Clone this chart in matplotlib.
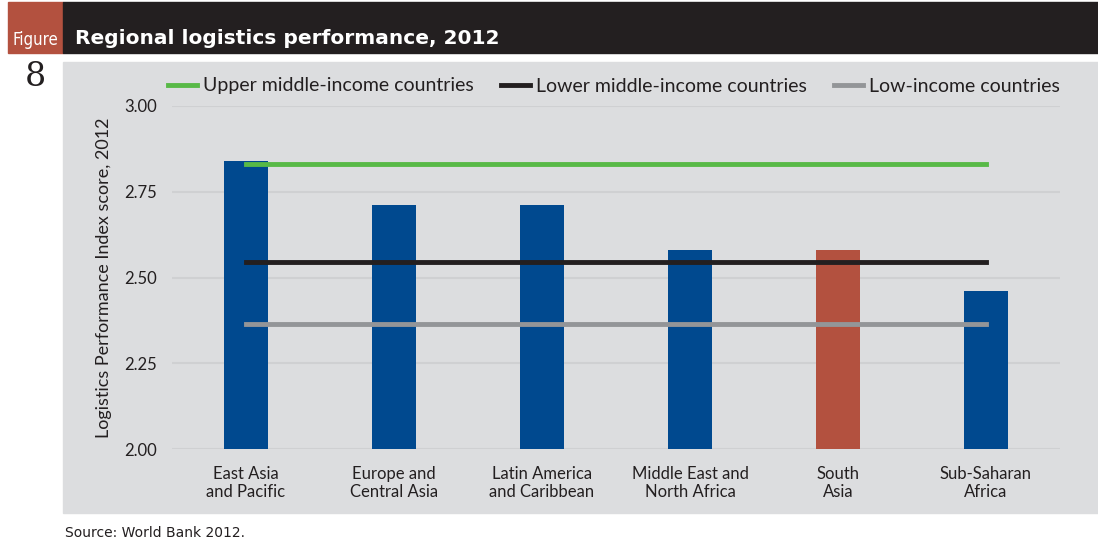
import numpy as np
import matplotlib
matplotlib.use("Agg")
from matplotlib import pyplot as plt
from matplotlib.patches import Rectangle

# =============================================================================
# data
# =============================================================================
regions = ["East Asia\nand Pacific", "Europe and\nCentral Asia", "Latin America\nand Caribbean",
           "Middle East and\nNorth Africa", "South\nAsia", "Sub-Saharan\nAfrica"]
lpi_score = [2.84, 2.71, 2.71, 2.58, 2.58, 2.46]
upper_middle = [2.83] * 6
lower_middle = [2.545] * 6
low_income = [2.365] * 6
yticks = [2.00, 2.25, 2.50, 2.75, 3.00]

blue = "#00498f"
red = "#b3513f"
panel = "#dcdddf"

W, H = 1098, 545
fig = plt.figure(figsize=(W / 100, H / 100), dpi=100)
plt.rcParams['font.family'] = ['Lato', 'DejaVu Sans']

def fx(px):
    return px / W

def fy(py):
    return 1 - py / H

# header
fig.patches.append(Rectangle((fx(8), fy(53)), fx(55), 51 / H, transform=fig.transFigure,
                             color=red, zorder=-5))
fig.patches.append(Rectangle((fx(63), fy(53)), 1 - fx(63), 51 / H, transform=fig.transFigure,
                             color="#231f20", zorder=-5))
fig.patches.append(Rectangle((fx(63), fy(513)), 1 - fx(63), 451 / H, transform=fig.transFigure,
                             color=panel, zorder=-5))
fig.text(fx(35.5), fy(40), "Figure", color="white", fontsize=12, ha="center", va="center",
         family="DejaVu Sans", fontstretch="condensed")
fig.text(fx(75), fy(38), "Regional logistics performance, 2012", color="white", fontsize=14.5,
         fontweight="bold", ha="left", va="center", family="DejaVu Sans")
fig.text(fx(35), fy(77), "8", color="#231f20", fontsize=24, ha="center", va="center",
         family="DejaVu Serif")
fig.text(fx(65), fy(533), "Source: World Bank 2012.", color="#231f20", fontsize=10,
         ha="left", va="center", family="DejaVu Sans")

# =============================================================================
# chart
# =============================================================================
ax = fig.add_axes([fx(172), fy(449), fx(1060) - fx(172), (449 - 106) / H])
ax.set_facecolor("none")
x = np.arange(len(regions))
colors = [blue, blue, blue, blue, red, blue]
ax.bar(x, lpi_score, width=0.30, color=colors, zorder=2)
ax.plot(x, upper_middle, color="#58b947", lw=3.5, label="Upper middle-income countries", zorder=3)
ax.plot(x, lower_middle, color="#231f20", lw=3.5, label="Lower middle-income countries", zorder=3)
ax.plot(x, low_income, color="#939598", lw=3.5, label="Low-income countries", zorder=3)

ax.set_xlim(-0.5, 5.5)
ax.set_ylim(2.0, 3.0)
ax.set_yticks(yticks)
ax.set_yticklabels(["%.2f" % t for t in yticks])
ax.set_xticks(x)
ax.set_xticklabels(regions)
ax.yaxis.grid(True, color="#cfd0d2", lw=1.5, zorder=0)
ax.set_axisbelow(True)
for s in ax.spines.values():
    s.set_visible(False)
ax.tick_params(length=0, labelsize=12, colors="#231f20")
ax.tick_params(axis="y", pad=11)
ax.tick_params(axis="x", pad=12)
ax.set_ylabel("Logistics Performance Index score, 2012", fontsize=13, color="#231f20")
ax.yaxis.set_label_coords(-0.068, 0.5)

fig.legend(loc="center", bbox_to_anchor=(fx(614), fy(86)), ncol=3, frameon=False,
           fontsize=14, handlelength=1.5, handletextpad=0.3, columnspacing=1.4,
           labelcolor="#231f20")

fig.savefig("out.png", dpi=100)
